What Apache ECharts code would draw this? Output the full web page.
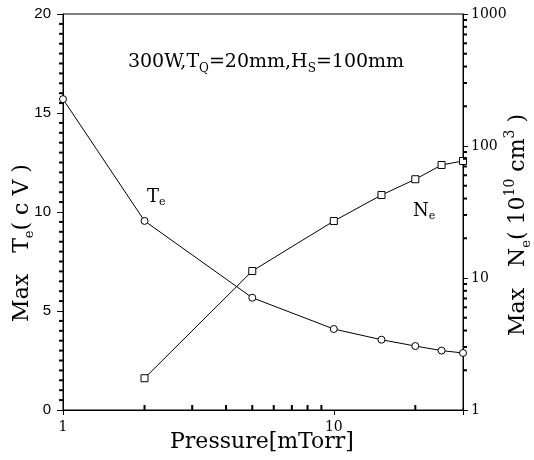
<!DOCTYPE html>
<html><head><meta charset="utf-8">
<script src="https://cdn.jsdelivr.net/npm/echarts@6/dist/echarts.min.js"></script>
<style>html,body{margin:0;padding:0;background:#fff}#c{width:534px;height:460px}</style>
</head><body><div id="c"></div>
<script>
const pressure = [1, 2, 5, 10, 15, 20, 25, 30];
const teValues = [15.7, 9.55, 5.67, 4.09, 3.55, 3.23, 3.0, 2.88];
const nePressure = [2, 5, 10, 15, 20, 25, 30];
const neValues = [1.74, 11.3, 27.0, 42.5, 56, 71.8, 77];
const xTickLabels = [1, 10];
const teTicks = [0, 5, 10, 15, 20];
const neTickLabels = [1, 10, 100, 1000];
const xMinorTicks = [2, 3, 4, 5, 6, 7, 8, 9, 20];
const teMinorTicks = [0.5,1,1.5,2,2.5,3,3.5,4,4.5,5.5,6,6.5,7,7.5,8,8.5,9,9.5,10.5,11,11.5,12,12.5,13,13.5,14,14.5,15.5,16,16.5,17,17.5,18,18.5,19,19.5];
const neMinorTicks = [2,3,4,5,6,7,8,9,20,30,40,50,60,70,80,90,200,300,400,500,600,700,800,900];

const serif = 'DejaVu Serif';
const chart = echarts.init(document.getElementById('c'));
function near(v, list){ return list.some(t => Math.abs(v - t) < 1e-6 * Math.max(1, t)); }
const tickStyle = { color: '#000', opacity: 1 };

chart.setOption({
  animation: false,
  grid: { left: 63, right: 71, top: 14, bottom: 50, show: true, borderColor: '#000', borderWidth: 1 },
  xAxis: {
    type: 'log', logBase: 10, min: 1, max: 30,
    axisLine: { lineStyle: { color: '#000', width: 1 } },
    axisTick: { show: true, length: 5, lineStyle: { color: '#000' } },
    splitLine: { show: false },
    axisLabel: { color: '#000', fontFamily: serif, fontSize: 14, margin: 10,
      formatter: v => near(v, xTickLabels) ? String(Math.round(v)) : '' }
  },
  yAxis: [{
    type: 'value', min: 0, max: 20, interval: 5,
    axisLine: { show: true, lineStyle: { color: '#000', width: 1 } },
    axisTick: { show: true, length: 6, lineStyle: { color: '#000' } },
    splitLine: { show: false },
    axisLabel: { color: '#000', fontFamily: 'Liberation Sans', fontSize: 15, margin: 12,
      formatter: v => near(v, teTicks) ? String(v) : '' }
  }, {
    type: 'log', logBase: 10, min: 1, max: 1000, position: 'right',
    axisLine: { show: true, lineStyle: { color: '#000', width: 1 } },
    axisTick: { show: true, length: 5, lineStyle: { color: '#000' } },
    splitLine: { show: false },
    axisLabel: { color: '#000', fontFamily: serif, fontSize: 14, margin: 8,
      formatter: v => near(v, neTickLabels) ? String(Math.round(v)) : '' }
  }],
  graphic: [
    { type: 'text', x: 266, y: 62, style: {
      text: '{a|300W,T}{s|Q}{a|=20mm,H}{s|S}{a|=100mm}', align: 'center', verticalAlign: 'middle',
      rich: { a: { fontFamily: serif, fontSize: 19, lineHeight: 26, fill: '#000', verticalAlign: 'middle' },
              s: { fontFamily: serif, fontSize: 12, lineHeight: 26, fill: '#000', verticalAlign: 'bottom' } } } },
    { type: 'text', x: 147, y: 186, style: {
      text: '{a|T}{s|e}',
      rich: { a: { fontFamily: serif, fontSize: 18, lineHeight: 22, fill: '#000' },
              s: { fontFamily: serif, fontSize: 11, lineHeight: 22, fill: '#000', verticalAlign: 'bottom' } } } },
    { type: 'text', x: 413, y: 200, style: {
      text: '{a|N}{s|e}',
      rich: { a: { fontFamily: serif, fontSize: 18, lineHeight: 22, fill: '#000' },
              s: { fontFamily: serif, fontSize: 11, lineHeight: 22, fill: '#000', verticalAlign: 'bottom' } } } },
    { type: 'text', x: 22, y: 243, rotation: Math.PI / 2, style: {
      text: '{a|Max   T}{s|e}{a|( c V )}', align: 'center', verticalAlign: 'middle',
      rich: { a: { fontFamily: serif, fontSize: 22, lineHeight: 28, fill: '#000' },
              s: { fontFamily: serif, fontSize: 13, lineHeight: 28, fill: '#000', verticalAlign: 'bottom' } } } },
    { type: 'text', x: 518, y: 225, rotation: Math.PI / 2, style: {
      text: '{a|Max   N}{s|e}{a|( 10}{p|10}{a| cm}{p|3}{a| )}', align: 'center', verticalAlign: 'middle',
      rich: { a: { fontFamily: serif, fontSize: 22, lineHeight: 30, fill: '#000' },
              s: { fontFamily: serif, fontSize: 13, lineHeight: 30, fill: '#000', verticalAlign: 'bottom' },
              p: { fontFamily: serif, fontSize: 14, lineHeight: 30, fill: '#000', verticalAlign: 'top' } } } },
    { type: 'text', x: 262, y: 442, style: {
      text: 'Pressure[mTorr]', align: 'center', verticalAlign: 'middle',
      font: '22px "DejaVu Serif"', fill: '#000' } }
  ],
  series: [
    { type: 'line', xAxisIndex: 0, yAxisIndex: 0,
      data: pressure.map((p, i) => [p, teValues[i]]),
      symbol: 'circle', symbolSize: 7, showAllSymbol: true,
      lineStyle: { color: '#000', width: 1 },
      itemStyle: { color: '#fff', borderColor: '#000', borderWidth: 1 } },
    { type: 'line', xAxisIndex: 0, yAxisIndex: 1,
      data: nePressure.map((p, i) => [p, neValues[i]]),
      symbol: 'rect', symbolSize: 7, showAllSymbol: true,
      lineStyle: { color: '#000', width: 1 },
      itemStyle: { color: '#fff', borderColor: '#000', borderWidth: 1 } },
    { type: 'scatter', xAxisIndex: 0, yAxisIndex: 0, clip: false, silent: true, z: 3,
      data: xMinorTicks.map(v => [v, 0]),
      symbol: 'rect', symbolSize: [2, 5], symbolOffset: [0, -2.5],
      itemStyle: tickStyle },
    { type: 'scatter', xAxisIndex: 0, yAxisIndex: 0, clip: false, silent: true, z: 3,
      data: teMinorTicks.map(v => [1, v]),
      symbol: 'rect', symbolSize: [4, 2], symbolOffset: [-2, 0],
      itemStyle: tickStyle },
    { type: 'scatter', xAxisIndex: 0, yAxisIndex: 1, clip: false, silent: true, z: 3,
      data: neMinorTicks.map(v => [30, v]),
      symbol: 'rect', symbolSize: [4, 2], symbolOffset: [2, 0],
      itemStyle: tickStyle }
  ]
});
</script></body></html>
